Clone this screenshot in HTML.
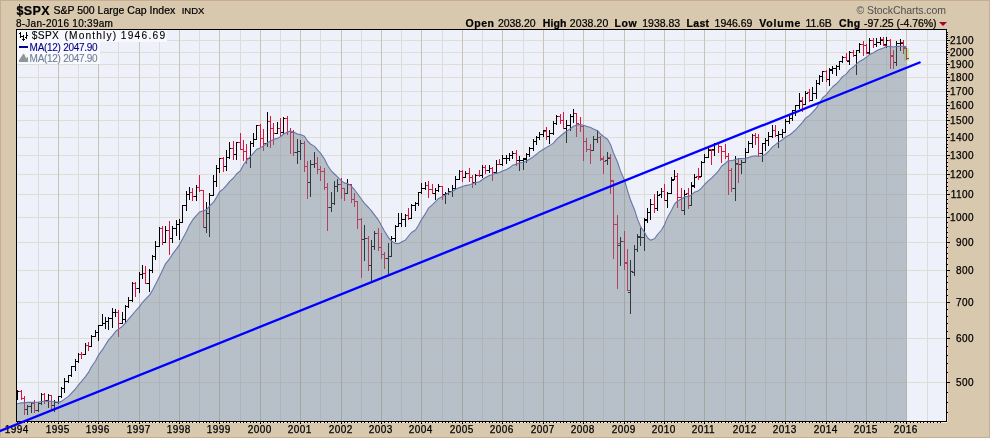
<!DOCTYPE html>
<html><head><meta charset="utf-8"><title>$SPX</title>
<style>
html,body{margin:0;padding:0;}
body{width:990px;height:438px;overflow:hidden;background:#d8c8ae;font-family:"Liberation Sans",sans-serif;color:#000;}
#c{position:relative;width:990px;height:438px;background:#d8c8ae;box-sizing:border-box;overflow:hidden;}
#bd{position:absolute;left:0;top:0;width:988px;height:436px;border:1px solid #c8ad92;pointer-events:none;}
.t{position:absolute;white-space:nowrap;line-height:1;-webkit-text-stroke:0.22px currentColor;}
#c{will-change:transform;}
.yl{position:absolute;left:940px;width:33.94px;text-align:right;font-size:10px;line-height:1;letter-spacing:0.44px;white-space:nowrap;-webkit-text-stroke:0.25px #000;}
.xl{position:absolute;top:424.70px;font-size:10px;line-height:1;letter-spacing:0.44px;white-space:nowrap;-webkit-text-stroke:0.25px #000;}
</style></head><body><div id="c">
<svg width="990" height="438" viewBox="0 0 990 438" style="position:absolute;left:0;top:0">
<rect x="16" y="29" width="930" height="392" fill="#eef0fa"/>
<g shape-rendering="crispEdges">
<rect x="17" y="382" width="929" height="1" fill="#e0ddd7"/>
<rect x="17" y="338" width="929" height="1" fill="#e0ddd7"/>
<rect x="17" y="302" width="929" height="1" fill="#e0ddd7"/>
<rect x="17" y="270" width="929" height="1" fill="#e0ddd7"/>
<rect x="17" y="242" width="929" height="1" fill="#e0ddd7"/>
<rect x="17" y="217" width="929" height="1" fill="#e0ddd7"/>
<rect x="17" y="194" width="929" height="1" fill="#e0ddd7"/>
<rect x="17" y="174" width="929" height="1" fill="#e0ddd7"/>
<rect x="17" y="155" width="929" height="1" fill="#e0ddd7"/>
<rect x="17" y="137" width="929" height="1" fill="#e0ddd7"/>
<rect x="17" y="120" width="929" height="1" fill="#e0ddd7"/>
<rect x="17" y="105" width="929" height="1" fill="#e0ddd7"/>
<rect x="17" y="91" width="929" height="1" fill="#e0ddd7"/>
<rect x="17" y="77" width="929" height="1" fill="#e0ddd7"/>
<rect x="17" y="64" width="929" height="1" fill="#e0ddd7"/>
<rect x="17" y="52" width="929" height="1" fill="#e0ddd7"/>
<rect x="17" y="40" width="929" height="1" fill="#e0ddd7"/>
<rect x="38" y="30" width="1" height="391" fill="#dedcd8"/>
<rect x="58" y="30" width="1" height="391" fill="#c7c4b6"/>
<rect x="78" y="30" width="1" height="391" fill="#dedcd8"/>
<rect x="98" y="30" width="1" height="391" fill="#c7c4b6"/>
<rect x="118" y="30" width="1" height="391" fill="#dedcd8"/>
<rect x="139" y="30" width="1" height="391" fill="#c7c4b6"/>
<rect x="159" y="30" width="1" height="391" fill="#dedcd8"/>
<rect x="179" y="30" width="1" height="391" fill="#c7c4b6"/>
<rect x="199" y="30" width="1" height="391" fill="#dedcd8"/>
<rect x="219" y="30" width="1" height="391" fill="#c7c4b6"/>
<rect x="240" y="30" width="1" height="391" fill="#dedcd8"/>
<rect x="260" y="30" width="1" height="391" fill="#c7c4b6"/>
<rect x="280" y="30" width="1" height="391" fill="#dedcd8"/>
<rect x="300" y="30" width="1" height="391" fill="#c7c4b6"/>
<rect x="320" y="30" width="1" height="391" fill="#dedcd8"/>
<rect x="341" y="30" width="1" height="391" fill="#c7c4b6"/>
<rect x="361" y="30" width="1" height="391" fill="#dedcd8"/>
<rect x="381" y="30" width="1" height="391" fill="#c7c4b6"/>
<rect x="401" y="30" width="1" height="391" fill="#dedcd8"/>
<rect x="421" y="30" width="1" height="391" fill="#c7c4b6"/>
<rect x="442" y="30" width="1" height="391" fill="#dedcd8"/>
<rect x="462" y="30" width="1" height="391" fill="#c7c4b6"/>
<rect x="482" y="30" width="1" height="391" fill="#dedcd8"/>
<rect x="502" y="30" width="1" height="391" fill="#c7c4b6"/>
<rect x="523" y="30" width="1" height="391" fill="#dedcd8"/>
<rect x="543" y="30" width="1" height="391" fill="#c7c4b6"/>
<rect x="563" y="30" width="1" height="391" fill="#dedcd8"/>
<rect x="583" y="30" width="1" height="391" fill="#c7c4b6"/>
<rect x="603" y="30" width="1" height="391" fill="#dedcd8"/>
<rect x="624" y="30" width="1" height="391" fill="#c7c4b6"/>
<rect x="644" y="30" width="1" height="391" fill="#dedcd8"/>
<rect x="664" y="30" width="1" height="391" fill="#c7c4b6"/>
<rect x="684" y="30" width="1" height="391" fill="#dedcd8"/>
<rect x="704" y="30" width="1" height="391" fill="#c7c4b6"/>
<rect x="725" y="30" width="1" height="391" fill="#dedcd8"/>
<rect x="745" y="30" width="1" height="391" fill="#c7c4b6"/>
<rect x="765" y="30" width="1" height="391" fill="#dedcd8"/>
<rect x="785" y="30" width="1" height="391" fill="#c7c4b6"/>
<rect x="805" y="30" width="1" height="391" fill="#dedcd8"/>
<rect x="826" y="30" width="1" height="391" fill="#c7c4b6"/>
<rect x="846" y="30" width="1" height="391" fill="#dedcd8"/>
<rect x="866" y="30" width="1" height="391" fill="#c7c4b6"/>
<rect x="886" y="30" width="1" height="391" fill="#dedcd8"/>
<rect x="906" y="30" width="1" height="391" fill="#c7c4b6"/>
<rect x="927" y="30" width="1" height="391" fill="#dedcd8"/>
</g>
<rect x="904" y="48" width="5" height="13" fill="#b9f2a4" shape-rendering="crispEdges"/>
<g shape-rendering="crispEdges">
<rect x="17" y="390" width="1" height="10" fill="#000"/>
<rect x="16" y="398" width="1" height="1" fill="#000"/>
<rect x="18" y="391" width="2" height="1" fill="#000"/>
<rect x="21" y="390" width="1" height="10" fill="#dc143c"/>
<rect x="19" y="391" width="2" height="1" fill="#dc143c"/>
<rect x="22" y="398" width="2" height="1" fill="#dc143c"/>
<rect x="24" y="396" width="1" height="19" fill="#dc143c"/>
<rect x="22" y="398" width="2" height="1" fill="#dc143c"/>
<rect x="25" y="409" width="2" height="1" fill="#dc143c"/>
<rect x="27" y="405" width="1" height="10" fill="#000"/>
<rect x="25" y="409" width="2" height="1" fill="#000"/>
<rect x="28" y="406" width="2" height="1" fill="#000"/>
<rect x="31" y="403" width="1" height="10" fill="#000"/>
<rect x="29" y="406" width="2" height="1" fill="#000"/>
<rect x="32" y="403" width="2" height="1" fill="#000"/>
<rect x="34" y="400" width="1" height="13" fill="#dc143c"/>
<rect x="32" y="403" width="2" height="1" fill="#dc143c"/>
<rect x="35" y="410" width="2" height="1" fill="#dc143c"/>
<rect x="38" y="402" width="1" height="10" fill="#000"/>
<rect x="36" y="410" width="2" height="1" fill="#000"/>
<rect x="39" y="403" width="2" height="1" fill="#000"/>
<rect x="41" y="393" width="1" height="12" fill="#000"/>
<rect x="39" y="403" width="2" height="1" fill="#000"/>
<rect x="42" y="394" width="2" height="1" fill="#000"/>
<rect x="44" y="393" width="1" height="11" fill="#dc143c"/>
<rect x="42" y="394" width="2" height="1" fill="#dc143c"/>
<rect x="45" y="400" width="2" height="1" fill="#dc143c"/>
<rect x="48" y="394" width="1" height="14" fill="#000"/>
<rect x="46" y="400" width="2" height="1" fill="#000"/>
<rect x="49" y="395" width="2" height="1" fill="#000"/>
<rect x="51" y="395" width="1" height="16" fill="#dc143c"/>
<rect x="49" y="395" width="2" height="1" fill="#dc143c"/>
<rect x="52" y="405" width="2" height="1" fill="#dc143c"/>
<rect x="54" y="400" width="1" height="12" fill="#000"/>
<rect x="52" y="405" width="2" height="1" fill="#000"/>
<rect x="55" y="402" width="2" height="1" fill="#000"/>
<rect x="58" y="396" width="1" height="8" fill="#000"/>
<rect x="56" y="402" width="2" height="1" fill="#000"/>
<rect x="59" y="396" width="2" height="1" fill="#000"/>
<rect x="61" y="387" width="1" height="11" fill="#000"/>
<rect x="59" y="396" width="2" height="1" fill="#000"/>
<rect x="62" y="388" width="2" height="1" fill="#000"/>
<rect x="64" y="378" width="1" height="15" fill="#000"/>
<rect x="62" y="388" width="2" height="1" fill="#000"/>
<rect x="65" y="381" width="2" height="1" fill="#000"/>
<rect x="68" y="375" width="1" height="8" fill="#000"/>
<rect x="66" y="381" width="2" height="1" fill="#000"/>
<rect x="69" y="375" width="2" height="1" fill="#000"/>
<rect x="71" y="366" width="1" height="11" fill="#000"/>
<rect x="69" y="375" width="2" height="1" fill="#000"/>
<rect x="72" y="366" width="2" height="1" fill="#000"/>
<rect x="75" y="359" width="1" height="12" fill="#000"/>
<rect x="73" y="366" width="2" height="1" fill="#000"/>
<rect x="76" y="361" width="2" height="1" fill="#000"/>
<rect x="78" y="353" width="1" height="10" fill="#000"/>
<rect x="76" y="361" width="2" height="1" fill="#000"/>
<rect x="79" y="354" width="2" height="1" fill="#000"/>
<rect x="81" y="352" width="1" height="7" fill="#dc143c"/>
<rect x="79" y="354" width="2" height="1" fill="#dc143c"/>
<rect x="82" y="354" width="2" height="1" fill="#dc143c"/>
<rect x="85" y="343" width="1" height="12" fill="#000"/>
<rect x="83" y="354" width="2" height="1" fill="#000"/>
<rect x="86" y="345" width="2" height="1" fill="#000"/>
<rect x="88" y="342" width="1" height="9" fill="#dc143c"/>
<rect x="86" y="345" width="2" height="1" fill="#dc143c"/>
<rect x="89" y="346" width="2" height="1" fill="#dc143c"/>
<rect x="91" y="335" width="1" height="12" fill="#000"/>
<rect x="89" y="346" width="2" height="1" fill="#000"/>
<rect x="92" y="336" width="2" height="1" fill="#000"/>
<rect x="95" y="330" width="1" height="7" fill="#000"/>
<rect x="93" y="336" width="2" height="1" fill="#000"/>
<rect x="96" y="332" width="2" height="1" fill="#000"/>
<rect x="98" y="325" width="1" height="16" fill="#000"/>
<rect x="96" y="332" width="2" height="1" fill="#000"/>
<rect x="99" y="325" width="2" height="1" fill="#000"/>
<rect x="102" y="314" width="1" height="12" fill="#000"/>
<rect x="100" y="325" width="2" height="1" fill="#000"/>
<rect x="103" y="323" width="2" height="1" fill="#000"/>
<rect x="105" y="317" width="1" height="12" fill="#000"/>
<rect x="103" y="323" width="2" height="1" fill="#000"/>
<rect x="106" y="321" width="2" height="1" fill="#000"/>
<rect x="108" y="317" width="1" height="13" fill="#000"/>
<rect x="106" y="321" width="2" height="1" fill="#000"/>
<rect x="109" y="318" width="2" height="1" fill="#000"/>
<rect x="112" y="308" width="1" height="20" fill="#000"/>
<rect x="110" y="318" width="2" height="1" fill="#000"/>
<rect x="113" y="312" width="2" height="1" fill="#000"/>
<rect x="115" y="309" width="1" height="8" fill="#000"/>
<rect x="113" y="312" width="2" height="1" fill="#000"/>
<rect x="116" y="312" width="2" height="1" fill="#000"/>
<rect x="118" y="310" width="1" height="27" fill="#dc143c"/>
<rect x="116" y="312" width="2" height="1" fill="#dc143c"/>
<rect x="119" y="323" width="2" height="1" fill="#dc143c"/>
<rect x="122" y="312" width="1" height="12" fill="#000"/>
<rect x="120" y="323" width="2" height="1" fill="#000"/>
<rect x="123" y="319" width="2" height="1" fill="#000"/>
<rect x="125" y="305" width="1" height="18" fill="#000"/>
<rect x="123" y="319" width="2" height="1" fill="#000"/>
<rect x="126" y="306" width="2" height="1" fill="#000"/>
<rect x="128" y="297" width="1" height="11" fill="#000"/>
<rect x="126" y="306" width="2" height="1" fill="#000"/>
<rect x="129" y="300" width="2" height="1" fill="#000"/>
<rect x="132" y="282" width="1" height="20" fill="#000"/>
<rect x="130" y="300" width="2" height="1" fill="#000"/>
<rect x="133" y="283" width="2" height="1" fill="#000"/>
<rect x="135" y="282" width="1" height="15" fill="#dc143c"/>
<rect x="133" y="283" width="2" height="1" fill="#dc143c"/>
<rect x="136" y="288" width="2" height="1" fill="#dc143c"/>
<rect x="139" y="272" width="1" height="21" fill="#000"/>
<rect x="137" y="288" width="2" height="1" fill="#000"/>
<rect x="140" y="274" width="2" height="1" fill="#000"/>
<rect x="142" y="265" width="1" height="14" fill="#000"/>
<rect x="140" y="274" width="2" height="1" fill="#000"/>
<rect x="143" y="273" width="2" height="1" fill="#000"/>
<rect x="145" y="266" width="1" height="18" fill="#dc143c"/>
<rect x="143" y="273" width="2" height="1" fill="#dc143c"/>
<rect x="146" y="283" width="2" height="1" fill="#dc143c"/>
<rect x="149" y="269" width="1" height="23" fill="#000"/>
<rect x="147" y="283" width="2" height="1" fill="#000"/>
<rect x="150" y="270" width="2" height="1" fill="#000"/>
<rect x="152" y="255" width="1" height="18" fill="#000"/>
<rect x="150" y="270" width="2" height="1" fill="#000"/>
<rect x="153" y="256" width="2" height="1" fill="#000"/>
<rect x="155" y="241" width="1" height="19" fill="#000"/>
<rect x="153" y="256" width="2" height="1" fill="#000"/>
<rect x="156" y="246" width="2" height="1" fill="#000"/>
<rect x="159" y="227" width="1" height="20" fill="#000"/>
<rect x="157" y="246" width="2" height="1" fill="#000"/>
<rect x="160" y="228" width="2" height="1" fill="#000"/>
<rect x="162" y="226" width="1" height="19" fill="#dc143c"/>
<rect x="160" y="228" width="2" height="1" fill="#dc143c"/>
<rect x="163" y="242" width="2" height="1" fill="#dc143c"/>
<rect x="165" y="226" width="1" height="17" fill="#000"/>
<rect x="163" y="242" width="2" height="1" fill="#000"/>
<rect x="166" y="230" width="2" height="1" fill="#000"/>
<rect x="169" y="221" width="1" height="34" fill="#dc143c"/>
<rect x="167" y="230" width="2" height="1" fill="#dc143c"/>
<rect x="170" y="238" width="2" height="1" fill="#dc143c"/>
<rect x="172" y="226" width="1" height="17" fill="#000"/>
<rect x="170" y="238" width="2" height="1" fill="#000"/>
<rect x="173" y="228" width="2" height="1" fill="#000"/>
<rect x="176" y="220" width="1" height="16" fill="#000"/>
<rect x="174" y="228" width="2" height="1" fill="#000"/>
<rect x="177" y="224" width="2" height="1" fill="#000"/>
<rect x="179" y="219" width="1" height="21" fill="#000"/>
<rect x="177" y="224" width="2" height="1" fill="#000"/>
<rect x="180" y="222" width="2" height="1" fill="#000"/>
<rect x="182" y="205" width="1" height="18" fill="#000"/>
<rect x="180" y="222" width="2" height="1" fill="#000"/>
<rect x="183" y="205" width="2" height="1" fill="#000"/>
<rect x="186" y="191" width="1" height="20" fill="#000"/>
<rect x="184" y="205" width="2" height="1" fill="#000"/>
<rect x="187" y="194" width="2" height="1" fill="#000"/>
<rect x="189" y="187" width="1" height="13" fill="#000"/>
<rect x="187" y="194" width="2" height="1" fill="#000"/>
<rect x="190" y="192" width="2" height="1" fill="#000"/>
<rect x="192" y="188" width="1" height="13" fill="#dc143c"/>
<rect x="190" y="192" width="2" height="1" fill="#dc143c"/>
<rect x="193" y="196" width="2" height="1" fill="#dc143c"/>
<rect x="196" y="185" width="1" height="16" fill="#000"/>
<rect x="194" y="196" width="2" height="1" fill="#000"/>
<rect x="197" y="187" width="2" height="1" fill="#000"/>
<rect x="199" y="175" width="1" height="17" fill="#dc143c"/>
<rect x="197" y="187" width="2" height="1" fill="#dc143c"/>
<rect x="200" y="190" width="2" height="1" fill="#dc143c"/>
<rect x="203" y="190" width="1" height="38" fill="#dc143c"/>
<rect x="201" y="190" width="2" height="1" fill="#dc143c"/>
<rect x="204" y="227" width="2" height="1" fill="#dc143c"/>
<rect x="206" y="202" width="1" height="31" fill="#000"/>
<rect x="204" y="227" width="2" height="1" fill="#000"/>
<rect x="207" y="213" width="2" height="1" fill="#000"/>
<rect x="209" y="193" width="1" height="44" fill="#000"/>
<rect x="207" y="213" width="2" height="1" fill="#000"/>
<rect x="210" y="195" width="2" height="1" fill="#000"/>
<rect x="213" y="175" width="1" height="21" fill="#000"/>
<rect x="211" y="195" width="2" height="1" fill="#000"/>
<rect x="214" y="181" width="2" height="1" fill="#000"/>
<rect x="216" y="165" width="1" height="22" fill="#000"/>
<rect x="214" y="181" width="2" height="1" fill="#000"/>
<rect x="217" y="168" width="2" height="1" fill="#000"/>
<rect x="219" y="158" width="1" height="15" fill="#000"/>
<rect x="217" y="168" width="2" height="1" fill="#000"/>
<rect x="220" y="158" width="2" height="1" fill="#000"/>
<rect x="223" y="157" width="1" height="15" fill="#dc143c"/>
<rect x="221" y="158" width="2" height="1" fill="#dc143c"/>
<rect x="224" y="166" width="2" height="1" fill="#dc143c"/>
<rect x="226" y="150" width="1" height="21" fill="#000"/>
<rect x="224" y="166" width="2" height="1" fill="#000"/>
<rect x="227" y="157" width="2" height="1" fill="#000"/>
<rect x="229" y="142" width="1" height="17" fill="#000"/>
<rect x="227" y="157" width="2" height="1" fill="#000"/>
<rect x="230" y="148" width="2" height="1" fill="#000"/>
<rect x="233" y="141" width="1" height="19" fill="#dc143c"/>
<rect x="231" y="148" width="2" height="1" fill="#dc143c"/>
<rect x="234" y="154" width="2" height="1" fill="#dc143c"/>
<rect x="236" y="142" width="1" height="18" fill="#000"/>
<rect x="234" y="154" width="2" height="1" fill="#000"/>
<rect x="237" y="142" width="2" height="1" fill="#000"/>
<rect x="240" y="133" width="1" height="17" fill="#dc143c"/>
<rect x="238" y="142" width="2" height="1" fill="#dc143c"/>
<rect x="241" y="149" width="2" height="1" fill="#dc143c"/>
<rect x="243" y="140" width="1" height="21" fill="#dc143c"/>
<rect x="241" y="149" width="2" height="1" fill="#dc143c"/>
<rect x="244" y="151" width="2" height="1" fill="#dc143c"/>
<rect x="246" y="144" width="1" height="20" fill="#dc143c"/>
<rect x="244" y="151" width="2" height="1" fill="#dc143c"/>
<rect x="247" y="158" width="2" height="1" fill="#dc143c"/>
<rect x="250" y="141" width="1" height="27" fill="#000"/>
<rect x="248" y="158" width="2" height="1" fill="#000"/>
<rect x="251" y="143" width="2" height="1" fill="#000"/>
<rect x="253" y="133" width="1" height="14" fill="#000"/>
<rect x="251" y="143" width="2" height="1" fill="#000"/>
<rect x="254" y="139" width="2" height="1" fill="#000"/>
<rect x="256" y="125" width="1" height="15" fill="#000"/>
<rect x="254" y="139" width="2" height="1" fill="#000"/>
<rect x="257" y="125" width="2" height="1" fill="#000"/>
<rect x="260" y="124" width="1" height="23" fill="#dc143c"/>
<rect x="258" y="125" width="2" height="1" fill="#dc143c"/>
<rect x="261" y="138" width="2" height="1" fill="#dc143c"/>
<rect x="263" y="129" width="1" height="22" fill="#dc143c"/>
<rect x="261" y="138" width="2" height="1" fill="#dc143c"/>
<rect x="264" y="143" width="2" height="1" fill="#dc143c"/>
<rect x="267" y="112" width="1" height="35" fill="#000"/>
<rect x="265" y="143" width="2" height="1" fill="#000"/>
<rect x="268" y="121" width="2" height="1" fill="#000"/>
<rect x="270" y="116" width="1" height="32" fill="#dc143c"/>
<rect x="268" y="121" width="2" height="1" fill="#dc143c"/>
<rect x="271" y="128" width="2" height="1" fill="#dc143c"/>
<rect x="273" y="123" width="1" height="22" fill="#dc143c"/>
<rect x="271" y="128" width="2" height="1" fill="#dc143c"/>
<rect x="274" y="133" width="2" height="1" fill="#dc143c"/>
<rect x="277" y="122" width="1" height="12" fill="#000"/>
<rect x="275" y="133" width="2" height="1" fill="#000"/>
<rect x="278" y="128" width="2" height="1" fill="#000"/>
<rect x="280" y="118" width="1" height="18" fill="#dc143c"/>
<rect x="278" y="128" width="2" height="1" fill="#dc143c"/>
<rect x="281" y="132" width="2" height="1" fill="#dc143c"/>
<rect x="283" y="117" width="1" height="17" fill="#000"/>
<rect x="281" y="132" width="2" height="1" fill="#000"/>
<rect x="284" y="118" width="2" height="1" fill="#000"/>
<rect x="287" y="116" width="1" height="19" fill="#dc143c"/>
<rect x="285" y="118" width="2" height="1" fill="#dc143c"/>
<rect x="288" y="131" width="2" height="1" fill="#dc143c"/>
<rect x="290" y="128" width="1" height="26" fill="#dc143c"/>
<rect x="288" y="131" width="2" height="1" fill="#dc143c"/>
<rect x="291" y="132" width="2" height="1" fill="#dc143c"/>
<rect x="293" y="130" width="1" height="26" fill="#dc143c"/>
<rect x="291" y="132" width="2" height="1" fill="#dc143c"/>
<rect x="294" y="152" width="2" height="1" fill="#dc143c"/>
<rect x="297" y="139" width="1" height="25" fill="#000"/>
<rect x="295" y="152" width="2" height="1" fill="#000"/>
<rect x="298" y="151" width="2" height="1" fill="#000"/>
<rect x="300" y="140" width="1" height="20" fill="#000"/>
<rect x="298" y="151" width="2" height="1" fill="#000"/>
<rect x="301" y="143" width="2" height="1" fill="#000"/>
<rect x="304" y="141" width="1" height="31" fill="#dc143c"/>
<rect x="302" y="143" width="2" height="1" fill="#dc143c"/>
<rect x="305" y="166" width="2" height="1" fill="#dc143c"/>
<rect x="307" y="161" width="1" height="38" fill="#dc143c"/>
<rect x="305" y="166" width="2" height="1" fill="#dc143c"/>
<rect x="308" y="182" width="2" height="1" fill="#dc143c"/>
<rect x="310" y="160" width="1" height="37" fill="#000"/>
<rect x="308" y="182" width="2" height="1" fill="#000"/>
<rect x="311" y="164" width="2" height="1" fill="#000"/>
<rect x="314" y="152" width="1" height="16" fill="#000"/>
<rect x="312" y="164" width="2" height="1" fill="#000"/>
<rect x="315" y="163" width="2" height="1" fill="#000"/>
<rect x="317" y="157" width="1" height="17" fill="#dc143c"/>
<rect x="315" y="163" width="2" height="1" fill="#dc143c"/>
<rect x="318" y="169" width="2" height="1" fill="#dc143c"/>
<rect x="320" y="166" width="1" height="15" fill="#dc143c"/>
<rect x="318" y="169" width="2" height="1" fill="#dc143c"/>
<rect x="321" y="171" width="2" height="1" fill="#dc143c"/>
<rect x="324" y="168" width="1" height="22" fill="#dc143c"/>
<rect x="322" y="171" width="2" height="1" fill="#dc143c"/>
<rect x="325" y="187" width="2" height="1" fill="#dc143c"/>
<rect x="327" y="183" width="1" height="48" fill="#dc143c"/>
<rect x="325" y="187" width="2" height="1" fill="#dc143c"/>
<rect x="328" y="207" width="2" height="1" fill="#dc143c"/>
<rect x="331" y="192" width="1" height="20" fill="#000"/>
<rect x="329" y="207" width="2" height="1" fill="#000"/>
<rect x="332" y="203" width="2" height="1" fill="#000"/>
<rect x="334" y="181" width="1" height="24" fill="#000"/>
<rect x="332" y="203" width="2" height="1" fill="#000"/>
<rect x="335" y="186" width="2" height="1" fill="#000"/>
<rect x="337" y="179" width="1" height="13" fill="#000"/>
<rect x="335" y="186" width="2" height="1" fill="#000"/>
<rect x="338" y="184" width="2" height="1" fill="#000"/>
<rect x="341" y="178" width="1" height="21" fill="#dc143c"/>
<rect x="339" y="184" width="2" height="1" fill="#dc143c"/>
<rect x="342" y="188" width="2" height="1" fill="#dc143c"/>
<rect x="344" y="188" width="1" height="13" fill="#dc143c"/>
<rect x="342" y="188" width="2" height="1" fill="#dc143c"/>
<rect x="345" y="193" width="2" height="1" fill="#dc143c"/>
<rect x="347" y="179" width="1" height="15" fill="#000"/>
<rect x="345" y="193" width="2" height="1" fill="#000"/>
<rect x="348" y="184" width="2" height="1" fill="#000"/>
<rect x="351" y="184" width="1" height="19" fill="#dc143c"/>
<rect x="349" y="184" width="2" height="1" fill="#dc143c"/>
<rect x="352" y="199" width="2" height="1" fill="#dc143c"/>
<rect x="354" y="193" width="1" height="14" fill="#dc143c"/>
<rect x="352" y="199" width="2" height="1" fill="#dc143c"/>
<rect x="355" y="201" width="2" height="1" fill="#dc143c"/>
<rect x="357" y="201" width="1" height="28" fill="#dc143c"/>
<rect x="355" y="201" width="2" height="1" fill="#dc143c"/>
<rect x="358" y="219" width="2" height="1" fill="#dc143c"/>
<rect x="361" y="218" width="1" height="60" fill="#dc143c"/>
<rect x="359" y="219" width="2" height="1" fill="#dc143c"/>
<rect x="362" y="239" width="2" height="1" fill="#dc143c"/>
<rect x="364" y="225" width="1" height="36" fill="#000"/>
<rect x="362" y="239" width="2" height="1" fill="#000"/>
<rect x="365" y="238" width="2" height="1" fill="#000"/>
<rect x="368" y="236" width="1" height="35" fill="#dc143c"/>
<rect x="366" y="238" width="2" height="1" fill="#dc143c"/>
<rect x="369" y="265" width="2" height="1" fill="#dc143c"/>
<rect x="371" y="240" width="1" height="41" fill="#000"/>
<rect x="369" y="265" width="2" height="1" fill="#000"/>
<rect x="372" y="246" width="2" height="1" fill="#000"/>
<rect x="374" y="231" width="1" height="19" fill="#000"/>
<rect x="372" y="246" width="2" height="1" fill="#000"/>
<rect x="375" y="233" width="2" height="1" fill="#000"/>
<rect x="378" y="228" width="1" height="23" fill="#dc143c"/>
<rect x="376" y="233" width="2" height="1" fill="#dc143c"/>
<rect x="379" y="247" width="2" height="1" fill="#dc143c"/>
<rect x="381" y="233" width="1" height="26" fill="#dc143c"/>
<rect x="379" y="247" width="2" height="1" fill="#dc143c"/>
<rect x="382" y="254" width="2" height="1" fill="#dc143c"/>
<rect x="384" y="252" width="1" height="17" fill="#dc143c"/>
<rect x="382" y="254" width="2" height="1" fill="#dc143c"/>
<rect x="385" y="258" width="2" height="1" fill="#dc143c"/>
<rect x="388" y="243" width="1" height="31" fill="#000"/>
<rect x="386" y="258" width="2" height="1" fill="#000"/>
<rect x="389" y="256" width="2" height="1" fill="#000"/>
<rect x="391" y="236" width="1" height="21" fill="#000"/>
<rect x="389" y="256" width="2" height="1" fill="#000"/>
<rect x="392" y="238" width="2" height="1" fill="#000"/>
<rect x="395" y="225" width="1" height="17" fill="#000"/>
<rect x="393" y="238" width="2" height="1" fill="#000"/>
<rect x="396" y="226" width="2" height="1" fill="#000"/>
<rect x="398" y="213" width="1" height="14" fill="#000"/>
<rect x="396" y="226" width="2" height="1" fill="#000"/>
<rect x="399" y="223" width="2" height="1" fill="#000"/>
<rect x="401" y="213" width="1" height="14" fill="#000"/>
<rect x="399" y="223" width="2" height="1" fill="#000"/>
<rect x="402" y="219" width="2" height="1" fill="#000"/>
<rect x="405" y="214" width="1" height="13" fill="#000"/>
<rect x="403" y="219" width="2" height="1" fill="#000"/>
<rect x="406" y="215" width="2" height="1" fill="#000"/>
<rect x="408" y="208" width="1" height="12" fill="#dc143c"/>
<rect x="406" y="215" width="2" height="1" fill="#dc143c"/>
<rect x="409" y="218" width="2" height="1" fill="#dc143c"/>
<rect x="411" y="204" width="1" height="15" fill="#000"/>
<rect x="409" y="218" width="2" height="1" fill="#000"/>
<rect x="412" y="205" width="2" height="1" fill="#000"/>
<rect x="415" y="202" width="1" height="9" fill="#000"/>
<rect x="413" y="205" width="2" height="1" fill="#000"/>
<rect x="416" y="203" width="2" height="1" fill="#000"/>
<rect x="418" y="192" width="1" height="14" fill="#000"/>
<rect x="416" y="203" width="2" height="1" fill="#000"/>
<rect x="419" y="192" width="2" height="1" fill="#000"/>
<rect x="421" y="183" width="1" height="11" fill="#000"/>
<rect x="419" y="192" width="2" height="1" fill="#000"/>
<rect x="422" y="188" width="2" height="1" fill="#000"/>
<rect x="425" y="182" width="1" height="8" fill="#000"/>
<rect x="423" y="188" width="2" height="1" fill="#000"/>
<rect x="426" y="185" width="2" height="1" fill="#000"/>
<rect x="428" y="181" width="1" height="17" fill="#dc143c"/>
<rect x="426" y="185" width="2" height="1" fill="#dc143c"/>
<rect x="429" y="189" width="2" height="1" fill="#dc143c"/>
<rect x="432" y="184" width="1" height="10" fill="#dc143c"/>
<rect x="430" y="189" width="2" height="1" fill="#dc143c"/>
<rect x="433" y="193" width="2" height="1" fill="#dc143c"/>
<rect x="435" y="188" width="1" height="12" fill="#000"/>
<rect x="433" y="193" width="2" height="1" fill="#000"/>
<rect x="436" y="190" width="2" height="1" fill="#000"/>
<rect x="438" y="184" width="1" height="8" fill="#000"/>
<rect x="436" y="190" width="2" height="1" fill="#000"/>
<rect x="439" y="186" width="2" height="1" fill="#000"/>
<rect x="442" y="186" width="1" height="14" fill="#dc143c"/>
<rect x="440" y="186" width="2" height="1" fill="#dc143c"/>
<rect x="443" y="194" width="2" height="1" fill="#dc143c"/>
<rect x="445" y="192" width="1" height="12" fill="#000"/>
<rect x="443" y="194" width="2" height="1" fill="#000"/>
<rect x="446" y="193" width="2" height="1" fill="#000"/>
<rect x="448" y="188" width="1" height="7" fill="#000"/>
<rect x="446" y="193" width="2" height="1" fill="#000"/>
<rect x="449" y="191" width="2" height="1" fill="#000"/>
<rect x="452" y="185" width="1" height="12" fill="#000"/>
<rect x="450" y="191" width="2" height="1" fill="#000"/>
<rect x="453" y="188" width="2" height="1" fill="#000"/>
<rect x="455" y="176" width="1" height="13" fill="#000"/>
<rect x="453" y="188" width="2" height="1" fill="#000"/>
<rect x="456" y="179" width="2" height="1" fill="#000"/>
<rect x="459" y="170" width="1" height="10" fill="#000"/>
<rect x="457" y="179" width="2" height="1" fill="#000"/>
<rect x="460" y="171" width="2" height="1" fill="#000"/>
<rect x="462" y="170" width="1" height="12" fill="#dc143c"/>
<rect x="460" y="171" width="2" height="1" fill="#dc143c"/>
<rect x="463" y="177" width="2" height="1" fill="#dc143c"/>
<rect x="465" y="171" width="1" height="7" fill="#000"/>
<rect x="463" y="177" width="2" height="1" fill="#000"/>
<rect x="466" y="173" width="2" height="1" fill="#000"/>
<rect x="469" y="168" width="1" height="14" fill="#dc143c"/>
<rect x="467" y="173" width="2" height="1" fill="#dc143c"/>
<rect x="470" y="177" width="2" height="1" fill="#dc143c"/>
<rect x="472" y="175" width="1" height="13" fill="#dc143c"/>
<rect x="470" y="177" width="2" height="1" fill="#dc143c"/>
<rect x="473" y="182" width="2" height="1" fill="#dc143c"/>
<rect x="475" y="174" width="1" height="11" fill="#000"/>
<rect x="473" y="182" width="2" height="1" fill="#000"/>
<rect x="476" y="175" width="2" height="1" fill="#000"/>
<rect x="479" y="170" width="1" height="7" fill="#dc143c"/>
<rect x="477" y="175" width="2" height="1" fill="#dc143c"/>
<rect x="480" y="175" width="2" height="1" fill="#dc143c"/>
<rect x="482" y="165" width="1" height="13" fill="#000"/>
<rect x="480" y="175" width="2" height="1" fill="#000"/>
<rect x="483" y="167" width="2" height="1" fill="#000"/>
<rect x="485" y="165" width="1" height="9" fill="#dc143c"/>
<rect x="483" y="167" width="2" height="1" fill="#dc143c"/>
<rect x="486" y="170" width="2" height="1" fill="#dc143c"/>
<rect x="489" y="165" width="1" height="8" fill="#000"/>
<rect x="487" y="170" width="2" height="1" fill="#000"/>
<rect x="490" y="168" width="2" height="1" fill="#000"/>
<rect x="492" y="167" width="1" height="14" fill="#dc143c"/>
<rect x="490" y="168" width="2" height="1" fill="#dc143c"/>
<rect x="493" y="172" width="2" height="1" fill="#dc143c"/>
<rect x="496" y="160" width="1" height="14" fill="#000"/>
<rect x="494" y="172" width="2" height="1" fill="#000"/>
<rect x="497" y="164" width="2" height="1" fill="#000"/>
<rect x="499" y="159" width="1" height="6" fill="#dc143c"/>
<rect x="497" y="164" width="2" height="1" fill="#dc143c"/>
<rect x="500" y="164" width="2" height="1" fill="#dc143c"/>
<rect x="502" y="155" width="1" height="11" fill="#000"/>
<rect x="500" y="164" width="2" height="1" fill="#000"/>
<rect x="503" y="158" width="2" height="1" fill="#000"/>
<rect x="506" y="155" width="1" height="9" fill="#000"/>
<rect x="504" y="158" width="2" height="1" fill="#000"/>
<rect x="507" y="158" width="2" height="1" fill="#000"/>
<rect x="509" y="153" width="1" height="8" fill="#000"/>
<rect x="507" y="158" width="2" height="1" fill="#000"/>
<rect x="510" y="155" width="2" height="1" fill="#000"/>
<rect x="512" y="151" width="1" height="8" fill="#000"/>
<rect x="510" y="155" width="2" height="1" fill="#000"/>
<rect x="513" y="153" width="2" height="1" fill="#000"/>
<rect x="516" y="150" width="1" height="16" fill="#dc143c"/>
<rect x="514" y="153" width="2" height="1" fill="#dc143c"/>
<rect x="517" y="160" width="2" height="1" fill="#dc143c"/>
<rect x="519" y="156" width="1" height="15" fill="#000"/>
<rect x="517" y="160" width="2" height="1" fill="#000"/>
<rect x="520" y="160" width="2" height="1" fill="#000"/>
<rect x="523" y="158" width="1" height="12" fill="#000"/>
<rect x="521" y="160" width="2" height="1" fill="#000"/>
<rect x="524" y="159" width="2" height="1" fill="#000"/>
<rect x="526" y="153" width="1" height="10" fill="#000"/>
<rect x="524" y="158" width="2" height="1" fill="#000"/>
<rect x="527" y="154" width="2" height="1" fill="#000"/>
<rect x="529" y="147" width="1" height="10" fill="#000"/>
<rect x="527" y="154" width="2" height="1" fill="#000"/>
<rect x="530" y="148" width="2" height="1" fill="#000"/>
<rect x="533" y="139" width="1" height="12" fill="#000"/>
<rect x="531" y="148" width="2" height="1" fill="#000"/>
<rect x="534" y="141" width="2" height="1" fill="#000"/>
<rect x="536" y="136" width="1" height="9" fill="#000"/>
<rect x="534" y="141" width="2" height="1" fill="#000"/>
<rect x="537" y="137" width="2" height="1" fill="#000"/>
<rect x="539" y="132" width="1" height="8" fill="#000"/>
<rect x="537" y="137" width="2" height="1" fill="#000"/>
<rect x="540" y="134" width="2" height="1" fill="#000"/>
<rect x="543" y="130" width="1" height="7" fill="#000"/>
<rect x="541" y="134" width="2" height="1" fill="#000"/>
<rect x="544" y="130" width="2" height="1" fill="#000"/>
<rect x="546" y="127" width="1" height="13" fill="#dc143c"/>
<rect x="544" y="131" width="2" height="1" fill="#dc143c"/>
<rect x="547" y="136" width="2" height="1" fill="#dc143c"/>
<rect x="549" y="130" width="1" height="14" fill="#000"/>
<rect x="547" y="136" width="2" height="1" fill="#000"/>
<rect x="550" y="133" width="2" height="1" fill="#000"/>
<rect x="553" y="121" width="1" height="14" fill="#000"/>
<rect x="551" y="133" width="2" height="1" fill="#000"/>
<rect x="554" y="123" width="2" height="1" fill="#000"/>
<rect x="556" y="115" width="1" height="10" fill="#000"/>
<rect x="554" y="123" width="2" height="1" fill="#000"/>
<rect x="557" y="116" width="2" height="1" fill="#000"/>
<rect x="560" y="114" width="1" height="10" fill="#dc143c"/>
<rect x="558" y="116" width="2" height="1" fill="#dc143c"/>
<rect x="561" y="120" width="2" height="1" fill="#dc143c"/>
<rect x="563" y="112" width="1" height="17" fill="#dc143c"/>
<rect x="561" y="120" width="2" height="1" fill="#dc143c"/>
<rect x="564" y="128" width="2" height="1" fill="#dc143c"/>
<rect x="566" y="120" width="1" height="23" fill="#000"/>
<rect x="564" y="128" width="2" height="1" fill="#000"/>
<rect x="567" y="125" width="2" height="1" fill="#000"/>
<rect x="570" y="114" width="1" height="17" fill="#000"/>
<rect x="568" y="125" width="2" height="1" fill="#000"/>
<rect x="571" y="116" width="2" height="1" fill="#000"/>
<rect x="573" y="109" width="1" height="14" fill="#000"/>
<rect x="571" y="116" width="2" height="1" fill="#000"/>
<rect x="574" y="113" width="2" height="1" fill="#000"/>
<rect x="576" y="113" width="1" height="24" fill="#dc143c"/>
<rect x="574" y="113" width="2" height="1" fill="#dc143c"/>
<rect x="577" y="123" width="2" height="1" fill="#dc143c"/>
<rect x="580" y="117" width="1" height="15" fill="#dc143c"/>
<rect x="578" y="124" width="2" height="1" fill="#dc143c"/>
<rect x="581" y="126" width="2" height="1" fill="#dc143c"/>
<rect x="583" y="125" width="1" height="36" fill="#dc143c"/>
<rect x="581" y="126" width="2" height="1" fill="#dc143c"/>
<rect x="584" y="141" width="2" height="1" fill="#dc143c"/>
<rect x="586" y="138" width="1" height="14" fill="#dc143c"/>
<rect x="584" y="141" width="2" height="1" fill="#dc143c"/>
<rect x="587" y="149" width="2" height="1" fill="#dc143c"/>
<rect x="590" y="144" width="1" height="20" fill="#dc143c"/>
<rect x="588" y="149" width="2" height="1" fill="#dc143c"/>
<rect x="591" y="150" width="2" height="1" fill="#dc143c"/>
<rect x="593" y="136" width="1" height="15" fill="#000"/>
<rect x="591" y="150" width="2" height="1" fill="#000"/>
<rect x="594" y="139" width="2" height="1" fill="#000"/>
<rect x="597" y="130" width="1" height="13" fill="#000"/>
<rect x="595" y="139" width="2" height="1" fill="#000"/>
<rect x="598" y="137" width="2" height="1" fill="#000"/>
<rect x="600" y="136" width="1" height="25" fill="#dc143c"/>
<rect x="598" y="137" width="2" height="1" fill="#dc143c"/>
<rect x="601" y="158" width="2" height="1" fill="#dc143c"/>
<rect x="603" y="156" width="1" height="18" fill="#dc143c"/>
<rect x="601" y="159" width="2" height="1" fill="#dc143c"/>
<rect x="604" y="161" width="2" height="1" fill="#dc143c"/>
<rect x="607" y="152" width="1" height="13" fill="#000"/>
<rect x="605" y="160" width="2" height="1" fill="#000"/>
<rect x="608" y="158" width="2" height="1" fill="#000"/>
<rect x="610" y="154" width="1" height="40" fill="#dc143c"/>
<rect x="608" y="157" width="2" height="1" fill="#dc143c"/>
<rect x="611" y="180" width="2" height="1" fill="#dc143c"/>
<rect x="613" y="180" width="1" height="79" fill="#dc143c"/>
<rect x="611" y="181" width="2" height="1" fill="#dc143c"/>
<rect x="614" y="224" width="2" height="1" fill="#dc143c"/>
<rect x="617" y="215" width="1" height="74" fill="#dc143c"/>
<rect x="615" y="224" width="2" height="1" fill="#dc143c"/>
<rect x="618" y="243" width="2" height="1" fill="#dc143c"/>
<rect x="620" y="237" width="1" height="29" fill="#000"/>
<rect x="618" y="245" width="2" height="1" fill="#000"/>
<rect x="621" y="241" width="2" height="1" fill="#000"/>
<rect x="624" y="231" width="1" height="39" fill="#dc143c"/>
<rect x="622" y="241" width="2" height="1" fill="#dc143c"/>
<rect x="625" y="262" width="2" height="1" fill="#dc143c"/>
<rect x="627" y="249" width="1" height="42" fill="#dc143c"/>
<rect x="625" y="263" width="2" height="1" fill="#dc143c"/>
<rect x="628" y="290" width="2" height="1" fill="#dc143c"/>
<rect x="630" y="260" width="1" height="54" fill="#000"/>
<rect x="628" y="292" width="2" height="1" fill="#000"/>
<rect x="631" y="271" width="2" height="1" fill="#000"/>
<rect x="634" y="245" width="1" height="31" fill="#000"/>
<rect x="632" y="272" width="2" height="1" fill="#000"/>
<rect x="635" y="249" width="2" height="1" fill="#000"/>
<rect x="637" y="234" width="1" height="18" fill="#000"/>
<rect x="635" y="249" width="2" height="1" fill="#000"/>
<rect x="638" y="237" width="2" height="1" fill="#000"/>
<rect x="640" y="228" width="1" height="18" fill="#000"/>
<rect x="638" y="236" width="2" height="1" fill="#000"/>
<rect x="641" y="237" width="2" height="1" fill="#000"/>
<rect x="644" y="218" width="1" height="33" fill="#000"/>
<rect x="642" y="237" width="2" height="1" fill="#000"/>
<rect x="645" y="220" width="2" height="1" fill="#000"/>
<rect x="647" y="208" width="1" height="15" fill="#000"/>
<rect x="645" y="219" width="2" height="1" fill="#000"/>
<rect x="648" y="212" width="2" height="1" fill="#000"/>
<rect x="650" y="199" width="1" height="21" fill="#000"/>
<rect x="648" y="212" width="2" height="1" fill="#000"/>
<rect x="651" y="204" width="2" height="1" fill="#000"/>
<rect x="654" y="194" width="1" height="19" fill="#dc143c"/>
<rect x="652" y="204" width="2" height="1" fill="#dc143c"/>
<rect x="655" y="208" width="2" height="1" fill="#dc143c"/>
<rect x="657" y="191" width="1" height="20" fill="#000"/>
<rect x="655" y="208" width="2" height="1" fill="#000"/>
<rect x="658" y="195" width="2" height="1" fill="#000"/>
<rect x="661" y="188" width="1" height="10" fill="#000"/>
<rect x="659" y="194" width="2" height="1" fill="#000"/>
<rect x="662" y="191" width="2" height="1" fill="#000"/>
<rect x="664" y="184" width="1" height="17" fill="#dc143c"/>
<rect x="662" y="191" width="2" height="1" fill="#dc143c"/>
<rect x="665" y="200" width="2" height="1" fill="#dc143c"/>
<rect x="667" y="192" width="1" height="16" fill="#000"/>
<rect x="665" y="200" width="2" height="1" fill="#000"/>
<rect x="668" y="193" width="2" height="1" fill="#000"/>
<rect x="671" y="177" width="1" height="17" fill="#000"/>
<rect x="669" y="193" width="2" height="1" fill="#000"/>
<rect x="672" y="180" width="2" height="1" fill="#000"/>
<rect x="674" y="170" width="1" height="10" fill="#000"/>
<rect x="672" y="179" width="2" height="1" fill="#000"/>
<rect x="675" y="176" width="2" height="1" fill="#000"/>
<rect x="677" y="173" width="1" height="35" fill="#dc143c"/>
<rect x="675" y="176" width="2" height="1" fill="#dc143c"/>
<rect x="678" y="197" width="2" height="1" fill="#dc143c"/>
<rect x="681" y="188" width="1" height="23" fill="#dc143c"/>
<rect x="679" y="197" width="2" height="1" fill="#dc143c"/>
<rect x="682" y="210" width="2" height="1" fill="#dc143c"/>
<rect x="684" y="190" width="1" height="25" fill="#000"/>
<rect x="682" y="210" width="2" height="1" fill="#000"/>
<rect x="685" y="194" width="2" height="1" fill="#000"/>
<rect x="688" y="188" width="1" height="21" fill="#dc143c"/>
<rect x="686" y="193" width="2" height="1" fill="#dc143c"/>
<rect x="689" y="205" width="2" height="1" fill="#dc143c"/>
<rect x="691" y="182" width="1" height="24" fill="#000"/>
<rect x="689" y="205" width="2" height="1" fill="#000"/>
<rect x="692" y="186" width="2" height="1" fill="#000"/>
<rect x="694" y="174" width="1" height="14" fill="#000"/>
<rect x="692" y="185" width="2" height="1" fill="#000"/>
<rect x="695" y="177" width="2" height="1" fill="#000"/>
<rect x="698" y="168" width="1" height="12" fill="#dc143c"/>
<rect x="696" y="176" width="2" height="1" fill="#dc143c"/>
<rect x="699" y="177" width="2" height="1" fill="#dc143c"/>
<rect x="701" y="161" width="1" height="16" fill="#000"/>
<rect x="699" y="176" width="2" height="1" fill="#000"/>
<rect x="702" y="162" width="2" height="1" fill="#000"/>
<rect x="704" y="154" width="1" height="9" fill="#000"/>
<rect x="702" y="162" width="2" height="1" fill="#000"/>
<rect x="705" y="157" width="2" height="1" fill="#000"/>
<rect x="708" y="147" width="1" height="11" fill="#000"/>
<rect x="706" y="157" width="2" height="1" fill="#000"/>
<rect x="709" y="150" width="2" height="1" fill="#000"/>
<rect x="711" y="149" width="1" height="16" fill="#dc143c"/>
<rect x="709" y="149" width="2" height="1" fill="#dc143c"/>
<rect x="712" y="150" width="2" height="1" fill="#dc143c"/>
<rect x="714" y="143" width="1" height="13" fill="#000"/>
<rect x="712" y="149" width="2" height="1" fill="#000"/>
<rect x="715" y="143" width="2" height="1" fill="#000"/>
<rect x="718" y="142" width="1" height="11" fill="#dc143c"/>
<rect x="716" y="143" width="2" height="1" fill="#dc143c"/>
<rect x="719" y="146" width="2" height="1" fill="#dc143c"/>
<rect x="721" y="146" width="1" height="17" fill="#dc143c"/>
<rect x="719" y="146" width="2" height="1" fill="#dc143c"/>
<rect x="722" y="151" width="2" height="1" fill="#dc143c"/>
<rect x="725" y="144" width="1" height="15" fill="#dc143c"/>
<rect x="723" y="151" width="2" height="1" fill="#dc143c"/>
<rect x="726" y="156" width="2" height="1" fill="#dc143c"/>
<rect x="728" y="153" width="1" height="42" fill="#dc143c"/>
<rect x="726" y="156" width="2" height="1" fill="#dc143c"/>
<rect x="729" y="170" width="2" height="1" fill="#dc143c"/>
<rect x="731" y="168" width="1" height="24" fill="#dc143c"/>
<rect x="729" y="170" width="2" height="1" fill="#dc143c"/>
<rect x="732" y="188" width="2" height="1" fill="#dc143c"/>
<rect x="735" y="156" width="1" height="45" fill="#000"/>
<rect x="733" y="188" width="2" height="1" fill="#000"/>
<rect x="736" y="163" width="2" height="1" fill="#000"/>
<rect x="738" y="159" width="1" height="24" fill="#dc143c"/>
<rect x="736" y="164" width="2" height="1" fill="#dc143c"/>
<rect x="739" y="164" width="2" height="1" fill="#dc143c"/>
<rect x="741" y="160" width="1" height="14" fill="#000"/>
<rect x="739" y="164" width="2" height="1" fill="#000"/>
<rect x="742" y="162" width="2" height="1" fill="#000"/>
<rect x="745" y="148" width="1" height="15" fill="#000"/>
<rect x="743" y="162" width="2" height="1" fill="#000"/>
<rect x="746" y="152" width="2" height="1" fill="#000"/>
<rect x="748" y="141" width="1" height="12" fill="#000"/>
<rect x="746" y="152" width="2" height="1" fill="#000"/>
<rect x="749" y="143" width="2" height="1" fill="#000"/>
<rect x="752" y="134" width="1" height="14" fill="#000"/>
<rect x="750" y="143" width="2" height="1" fill="#000"/>
<rect x="753" y="135" width="2" height="1" fill="#000"/>
<rect x="755" y="133" width="1" height="12" fill="#dc143c"/>
<rect x="753" y="135" width="2" height="1" fill="#dc143c"/>
<rect x="756" y="137" width="2" height="1" fill="#dc143c"/>
<rect x="758" y="134" width="1" height="23" fill="#dc143c"/>
<rect x="756" y="137" width="2" height="1" fill="#dc143c"/>
<rect x="759" y="153" width="2" height="1" fill="#dc143c"/>
<rect x="762" y="143" width="1" height="19" fill="#000"/>
<rect x="760" y="153" width="2" height="1" fill="#000"/>
<rect x="763" y="143" width="2" height="1" fill="#000"/>
<rect x="765" y="138" width="1" height="13" fill="#000"/>
<rect x="763" y="143" width="2" height="1" fill="#000"/>
<rect x="766" y="140" width="2" height="1" fill="#000"/>
<rect x="768" y="132" width="1" height="14" fill="#000"/>
<rect x="766" y="140" width="2" height="1" fill="#000"/>
<rect x="769" y="136" width="2" height="1" fill="#000"/>
<rect x="772" y="125" width="1" height="13" fill="#000"/>
<rect x="770" y="136" width="2" height="1" fill="#000"/>
<rect x="773" y="130" width="2" height="1" fill="#000"/>
<rect x="775" y="125" width="1" height="12" fill="#dc143c"/>
<rect x="773" y="130" width="2" height="1" fill="#dc143c"/>
<rect x="776" y="135" width="2" height="1" fill="#dc143c"/>
<rect x="778" y="131" width="1" height="17" fill="#000"/>
<rect x="776" y="135" width="2" height="1" fill="#000"/>
<rect x="779" y="134" width="2" height="1" fill="#000"/>
<rect x="782" y="129" width="1" height="9" fill="#000"/>
<rect x="780" y="134" width="2" height="1" fill="#000"/>
<rect x="783" y="132" width="2" height="1" fill="#000"/>
<rect x="785" y="119" width="1" height="14" fill="#000"/>
<rect x="783" y="132" width="2" height="1" fill="#000"/>
<rect x="786" y="121" width="2" height="1" fill="#000"/>
<rect x="789" y="116" width="1" height="8" fill="#000"/>
<rect x="787" y="121" width="2" height="1" fill="#000"/>
<rect x="790" y="118" width="2" height="1" fill="#000"/>
<rect x="792" y="110" width="1" height="11" fill="#000"/>
<rect x="790" y="118" width="2" height="1" fill="#000"/>
<rect x="793" y="110" width="2" height="1" fill="#000"/>
<rect x="795" y="105" width="1" height="11" fill="#000"/>
<rect x="793" y="110" width="2" height="1" fill="#000"/>
<rect x="796" y="105" width="2" height="1" fill="#000"/>
<rect x="799" y="93" width="1" height="16" fill="#000"/>
<rect x="797" y="105" width="2" height="1" fill="#000"/>
<rect x="800" y="101" width="2" height="1" fill="#000"/>
<rect x="802" y="97" width="1" height="15" fill="#dc143c"/>
<rect x="800" y="100" width="2" height="1" fill="#dc143c"/>
<rect x="803" y="104" width="2" height="1" fill="#dc143c"/>
<rect x="805" y="91" width="1" height="14" fill="#000"/>
<rect x="803" y="104" width="2" height="1" fill="#000"/>
<rect x="806" y="93" width="2" height="1" fill="#000"/>
<rect x="809" y="89" width="1" height="13" fill="#dc143c"/>
<rect x="807" y="92" width="2" height="1" fill="#dc143c"/>
<rect x="810" y="100" width="2" height="1" fill="#dc143c"/>
<rect x="812" y="87" width="1" height="14" fill="#000"/>
<rect x="810" y="100" width="2" height="1" fill="#000"/>
<rect x="813" y="93" width="2" height="1" fill="#000"/>
<rect x="816" y="80" width="1" height="19" fill="#000"/>
<rect x="814" y="93" width="2" height="1" fill="#000"/>
<rect x="817" y="83" width="2" height="1" fill="#000"/>
<rect x="819" y="75" width="1" height="10" fill="#000"/>
<rect x="817" y="83" width="2" height="1" fill="#000"/>
<rect x="820" y="76" width="2" height="1" fill="#000"/>
<rect x="822" y="71" width="1" height="11" fill="#000"/>
<rect x="820" y="76" width="2" height="1" fill="#000"/>
<rect x="823" y="71" width="2" height="1" fill="#000"/>
<rect x="826" y="70" width="1" height="12" fill="#dc143c"/>
<rect x="824" y="71" width="2" height="1" fill="#dc143c"/>
<rect x="827" y="79" width="2" height="1" fill="#dc143c"/>
<rect x="829" y="68" width="1" height="18" fill="#000"/>
<rect x="827" y="79" width="2" height="1" fill="#000"/>
<rect x="830" y="69" width="2" height="1" fill="#000"/>
<rect x="832" y="66" width="1" height="8" fill="#000"/>
<rect x="830" y="70" width="2" height="1" fill="#000"/>
<rect x="833" y="68" width="2" height="1" fill="#000"/>
<rect x="836" y="65" width="1" height="11" fill="#000"/>
<rect x="834" y="68" width="2" height="1" fill="#000"/>
<rect x="837" y="66" width="2" height="1" fill="#000"/>
<rect x="839" y="61" width="1" height="9" fill="#000"/>
<rect x="837" y="66" width="2" height="1" fill="#000"/>
<rect x="840" y="61" width="2" height="1" fill="#000"/>
<rect x="842" y="56" width="1" height="7" fill="#000"/>
<rect x="840" y="61" width="2" height="1" fill="#000"/>
<rect x="843" y="57" width="2" height="1" fill="#000"/>
<rect x="846" y="53" width="1" height="8" fill="#dc143c"/>
<rect x="844" y="57" width="2" height="1" fill="#dc143c"/>
<rect x="847" y="60" width="2" height="1" fill="#dc143c"/>
<rect x="849" y="51" width="1" height="14" fill="#000"/>
<rect x="847" y="61" width="2" height="1" fill="#000"/>
<rect x="850" y="52" width="2" height="1" fill="#000"/>
<rect x="853" y="50" width="1" height="7" fill="#dc143c"/>
<rect x="851" y="52" width="2" height="1" fill="#dc143c"/>
<rect x="854" y="55" width="2" height="1" fill="#dc143c"/>
<rect x="856" y="50" width="1" height="25" fill="#000"/>
<rect x="854" y="55" width="2" height="1" fill="#000"/>
<rect x="857" y="50" width="2" height="1" fill="#000"/>
<rect x="859" y="43" width="1" height="10" fill="#000"/>
<rect x="857" y="50" width="2" height="1" fill="#000"/>
<rect x="860" y="44" width="2" height="1" fill="#000"/>
<rect x="863" y="41" width="1" height="15" fill="#dc143c"/>
<rect x="861" y="44" width="2" height="1" fill="#dc143c"/>
<rect x="864" y="45" width="2" height="1" fill="#dc143c"/>
<rect x="866" y="44" width="1" height="10" fill="#dc143c"/>
<rect x="864" y="45" width="2" height="1" fill="#dc143c"/>
<rect x="867" y="53" width="2" height="1" fill="#dc143c"/>
<rect x="869" y="38" width="1" height="17" fill="#000"/>
<rect x="867" y="52" width="2" height="1" fill="#000"/>
<rect x="870" y="40" width="2" height="1" fill="#000"/>
<rect x="873" y="38" width="1" height="10" fill="#dc143c"/>
<rect x="871" y="40" width="2" height="1" fill="#dc143c"/>
<rect x="874" y="44" width="2" height="1" fill="#dc143c"/>
<rect x="876" y="38" width="1" height="9" fill="#000"/>
<rect x="874" y="44" width="2" height="1" fill="#000"/>
<rect x="877" y="42" width="2" height="1" fill="#000"/>
<rect x="880" y="37" width="1" height="8" fill="#000"/>
<rect x="878" y="42" width="2" height="1" fill="#000"/>
<rect x="881" y="40" width="2" height="1" fill="#000"/>
<rect x="883" y="37" width="1" height="9" fill="#dc143c"/>
<rect x="881" y="39" width="2" height="1" fill="#dc143c"/>
<rect x="884" y="45" width="2" height="1" fill="#dc143c"/>
<rect x="886" y="37" width="1" height="11" fill="#000"/>
<rect x="884" y="44" width="2" height="1" fill="#000"/>
<rect x="887" y="40" width="2" height="1" fill="#000"/>
<rect x="890" y="39" width="1" height="30" fill="#dc143c"/>
<rect x="888" y="40" width="2" height="1" fill="#dc143c"/>
<rect x="891" y="55" width="2" height="1" fill="#dc143c"/>
<rect x="893" y="50" width="1" height="19" fill="#dc143c"/>
<rect x="891" y="56" width="2" height="1" fill="#dc143c"/>
<rect x="894" y="62" width="2" height="1" fill="#dc143c"/>
<rect x="896" y="41" width="1" height="25" fill="#000"/>
<rect x="894" y="62" width="2" height="1" fill="#000"/>
<rect x="897" y="43" width="2" height="1" fill="#000"/>
<rect x="900" y="39" width="1" height="12" fill="#000"/>
<rect x="898" y="43" width="2" height="1" fill="#000"/>
<rect x="901" y="43" width="2" height="1" fill="#000"/>
<rect x="903" y="40" width="1" height="14" fill="#dc143c"/>
<rect x="901" y="42" width="2" height="1" fill="#dc143c"/>
<rect x="904" y="47" width="2" height="1" fill="#dc143c"/>
<rect x="906" y="48" width="1" height="12" fill="#dc143c"/>
<rect x="904" y="48" width="2" height="1" fill="#dc143c"/>
<rect x="907" y="58" width="2" height="1" fill="#dc143c"/>
</g>
<clipPath id="cp"><rect x="17" y="30" width="929" height="391"/></clipPath>
<g clip-path="url(#cp)">
<polygon points="17,421 17,403.7 17.5,403.7 21.5,402.7 24.5,402.9 27.5,402.4 31.5,402.2 34.5,402.4 38.5,402.0 41.5,401.5 44.5,401.3 48.5,401.1 51.5,401.5 54.5,401.8 58.5,402.3 61.5,401.4 64.5,399.1 68.5,396.4 71.5,393.1 75.5,389.0 78.5,384.8 81.5,381.4 85.5,376.6 88.5,372.4 91.5,366.7 95.5,361.0 98.5,355.1 102.5,349.7 105.5,344.8 108.5,340.1 112.5,335.6 115.5,331.5 118.5,329.1 122.5,326.2 125.5,323.0 128.5,319.2 132.5,314.7 135.5,311.0 139.5,306.6 142.5,302.3 145.5,299.2 149.5,295.1 152.5,290.2 155.5,284.5 159.5,276.4 162.5,270.2 165.5,263.8 169.5,258.8 172.5,254.2 176.5,248.9 179.5,244.6 182.5,238.9 186.5,231.6 189.5,225.1 192.5,220.2 196.5,215.3 199.5,212.0 203.5,210.9 206.5,209.6 209.5,206.1 213.5,202.2 216.5,197.4 219.5,192.0 223.5,188.7 226.5,185.4 229.5,181.6 233.5,178.0 236.5,174.0 240.5,170.6 243.5,164.8 246.5,160.6 250.5,156.5 253.5,153.1 256.5,149.5 260.5,147.8 263.5,145.9 267.5,142.8 270.5,141.1 273.5,139.4 277.5,138.2 280.5,136.8 283.5,134.0 287.5,131.9 290.5,131.0 293.5,132.0 297.5,134.1 300.5,134.5 304.5,136.2 307.5,141.0 310.5,144.0 314.5,146.4 317.5,149.8 320.5,153.1 324.5,159.0 327.5,165.2 331.5,171.2 334.5,174.0 337.5,176.9 341.5,180.9 344.5,183.1 347.5,183.4 351.5,186.3 354.5,189.7 357.5,193.8 361.5,199.3 364.5,203.3 368.5,207.5 371.5,210.9 374.5,214.8 378.5,220.2 381.5,225.7 384.5,231.2 388.5,237.6 391.5,241.1 395.5,243.4 398.5,243.7 401.5,242.0 405.5,240.0 408.5,236.0 411.5,232.5 415.5,230.0 418.5,225.2 421.5,219.6 425.5,213.6 428.5,208.2 432.5,204.6 435.5,201.7 438.5,198.6 442.5,196.6 445.5,194.9 448.5,192.7 452.5,191.3 455.5,189.3 459.5,187.5 462.5,186.6 465.5,185.6 469.5,184.7 472.5,183.8 475.5,182.6 479.5,181.7 482.5,179.5 485.5,177.5 489.5,175.6 492.5,174.4 496.5,173.1 499.5,172.5 502.5,170.9 506.5,169.6 509.5,167.8 512.5,165.3 516.5,164.1 519.5,162.8 523.5,162.2 526.5,160.9 529.5,159.2 533.5,156.6 536.5,154.3 539.5,151.7 543.5,149.3 546.5,147.4 549.5,145.6 553.5,143.1 556.5,139.3 560.5,136.0 563.5,133.5 566.5,131.2 570.5,128.6 573.5,126.2 576.5,125.1 580.5,124.5 583.5,125.3 586.5,126.3 590.5,127.6 593.5,129.0 597.5,130.7 600.5,133.8 603.5,136.5 607.5,139.2 610.5,144.4 613.5,153.0 617.5,162.0 620.5,171.1 624.5,180.2 627.5,190.6 630.5,200.0 634.5,209.7 637.5,219.1 640.5,226.4 644.5,232.2 647.5,237.8 650.5,240.2 654.5,238.7 657.5,234.5 661.5,230.0 664.5,224.9 667.5,217.4 671.5,210.2 674.5,204.2 677.5,201.0 681.5,199.0 684.5,196.9 688.5,196.4 691.5,194.9 694.5,192.2 698.5,190.7 701.5,188.2 704.5,184.5 708.5,180.7 711.5,178.1 714.5,175.1 718.5,170.9 721.5,166.2 725.5,163.2 728.5,160.5 731.5,160.7 735.5,159.6 738.5,158.6 741.5,158.6 745.5,158.2 748.5,157.6 752.5,156.3 755.5,155.8 758.5,156.3 762.5,155.7 765.5,154.3 768.5,151.5 772.5,146.9 775.5,144.6 778.5,142.1 782.5,139.7 785.5,137.0 789.5,135.0 792.5,132.7 795.5,130.0 799.5,125.6 802.5,122.3 805.5,118.3 809.5,115.4 812.5,112.3 816.5,107.9 819.5,103.1 822.5,98.0 826.5,94.6 829.5,90.5 832.5,87.0 836.5,83.8 839.5,80.5 842.5,76.6 846.5,73.9 849.5,69.9 853.5,66.8 856.5,64.1 859.5,61.4 863.5,59.2 866.5,57.1 869.5,54.6 873.5,52.7 876.5,50.7 880.5,48.9 883.5,47.9 886.5,46.2 890.5,46.5 893.5,47.0 896.5,46.4 900.5,46.3 903.5,46.4 906.5,46.9 906.5,421" fill="rgba(112,129,136,0.43)"/>
<polyline points="17,403.7 17.5,403.7 21.5,402.7 24.5,402.9 27.5,402.4 31.5,402.2 34.5,402.4 38.5,402.0 41.5,401.5 44.5,401.3 48.5,401.1 51.5,401.5 54.5,401.8 58.5,402.3 61.5,401.4 64.5,399.1 68.5,396.4 71.5,393.1 75.5,389.0 78.5,384.8 81.5,381.4 85.5,376.6 88.5,372.4 91.5,366.7 95.5,361.0 98.5,355.1 102.5,349.7 105.5,344.8 108.5,340.1 112.5,335.6 115.5,331.5 118.5,329.1 122.5,326.2 125.5,323.0 128.5,319.2 132.5,314.7 135.5,311.0 139.5,306.6 142.5,302.3 145.5,299.2 149.5,295.1 152.5,290.2 155.5,284.5 159.5,276.4 162.5,270.2 165.5,263.8 169.5,258.8 172.5,254.2 176.5,248.9 179.5,244.6 182.5,238.9 186.5,231.6 189.5,225.1 192.5,220.2 196.5,215.3 199.5,212.0 203.5,210.9 206.5,209.6 209.5,206.1 213.5,202.2 216.5,197.4 219.5,192.0 223.5,188.7 226.5,185.4 229.5,181.6 233.5,178.0 236.5,174.0 240.5,170.6 243.5,164.8 246.5,160.6 250.5,156.5 253.5,153.1 256.5,149.5 260.5,147.8 263.5,145.9 267.5,142.8 270.5,141.1 273.5,139.4 277.5,138.2 280.5,136.8 283.5,134.0 287.5,131.9 290.5,131.0 293.5,132.0 297.5,134.1 300.5,134.5 304.5,136.2 307.5,141.0 310.5,144.0 314.5,146.4 317.5,149.8 320.5,153.1 324.5,159.0 327.5,165.2 331.5,171.2 334.5,174.0 337.5,176.9 341.5,180.9 344.5,183.1 347.5,183.4 351.5,186.3 354.5,189.7 357.5,193.8 361.5,199.3 364.5,203.3 368.5,207.5 371.5,210.9 374.5,214.8 378.5,220.2 381.5,225.7 384.5,231.2 388.5,237.6 391.5,241.1 395.5,243.4 398.5,243.7 401.5,242.0 405.5,240.0 408.5,236.0 411.5,232.5 415.5,230.0 418.5,225.2 421.5,219.6 425.5,213.6 428.5,208.2 432.5,204.6 435.5,201.7 438.5,198.6 442.5,196.6 445.5,194.9 448.5,192.7 452.5,191.3 455.5,189.3 459.5,187.5 462.5,186.6 465.5,185.6 469.5,184.7 472.5,183.8 475.5,182.6 479.5,181.7 482.5,179.5 485.5,177.5 489.5,175.6 492.5,174.4 496.5,173.1 499.5,172.5 502.5,170.9 506.5,169.6 509.5,167.8 512.5,165.3 516.5,164.1 519.5,162.8 523.5,162.2 526.5,160.9 529.5,159.2 533.5,156.6 536.5,154.3 539.5,151.7 543.5,149.3 546.5,147.4 549.5,145.6 553.5,143.1 556.5,139.3 560.5,136.0 563.5,133.5 566.5,131.2 570.5,128.6 573.5,126.2 576.5,125.1 580.5,124.5 583.5,125.3 586.5,126.3 590.5,127.6 593.5,129.0 597.5,130.7 600.5,133.8 603.5,136.5 607.5,139.2 610.5,144.4 613.5,153.0 617.5,162.0 620.5,171.1 624.5,180.2 627.5,190.6 630.5,200.0 634.5,209.7 637.5,219.1 640.5,226.4 644.5,232.2 647.5,237.8 650.5,240.2 654.5,238.7 657.5,234.5 661.5,230.0 664.5,224.9 667.5,217.4 671.5,210.2 674.5,204.2 677.5,201.0 681.5,199.0 684.5,196.9 688.5,196.4 691.5,194.9 694.5,192.2 698.5,190.7 701.5,188.2 704.5,184.5 708.5,180.7 711.5,178.1 714.5,175.1 718.5,170.9 721.5,166.2 725.5,163.2 728.5,160.5 731.5,160.7 735.5,159.6 738.5,158.6 741.5,158.6 745.5,158.2 748.5,157.6 752.5,156.3 755.5,155.8 758.5,156.3 762.5,155.7 765.5,154.3 768.5,151.5 772.5,146.9 775.5,144.6 778.5,142.1 782.5,139.7 785.5,137.0 789.5,135.0 792.5,132.7 795.5,130.0 799.5,125.6 802.5,122.3 805.5,118.3 809.5,115.4 812.5,112.3 816.5,107.9 819.5,103.1 822.5,98.0 826.5,94.6 829.5,90.5 832.5,87.0 836.5,83.8 839.5,80.5 842.5,76.6 846.5,73.9 849.5,69.9 853.5,66.8 856.5,64.1 859.5,61.4 863.5,59.2 866.5,57.1 869.5,54.6 873.5,52.7 876.5,50.7 880.5,48.9 883.5,47.9 886.5,46.2 890.5,46.5 893.5,47.0 896.5,46.4 900.5,46.3 903.5,46.4 906.5,46.9" fill="none" stroke="#6676a8" stroke-width="1.1" stroke-linejoin="round"/>
</g>
<g shape-rendering="crispEdges" fill="#000">
<rect x="16" y="29" width="931" height="1"/>
<rect x="16" y="421" width="931" height="1"/>
<rect x="16" y="29" width="1" height="393"/>
<rect x="946" y="29" width="1" height="393"/>
<rect x="947" y="30" width="1" height="392" fill="#f0dfc2"/>
<rect x="17" y="422" width="930" height="1" fill="#fbe8ca"/>
<rect x="947" y="412" width="1" height="1"/>
<rect x="947" y="402" width="1" height="1"/>
<rect x="947" y="392" width="1" height="1"/>
<rect x="947" y="382" width="3" height="1"/>
<rect x="947" y="372" width="1" height="1"/>
<rect x="947" y="363" width="1" height="1"/>
<rect x="947" y="355" width="1" height="1"/>
<rect x="947" y="346" width="1" height="1"/>
<rect x="947" y="338" width="3" height="1"/>
<rect x="947" y="331" width="1" height="1"/>
<rect x="947" y="323" width="1" height="1"/>
<rect x="947" y="316" width="1" height="1"/>
<rect x="947" y="309" width="1" height="1"/>
<rect x="947" y="302" width="3" height="1"/>
<rect x="947" y="295" width="1" height="1"/>
<rect x="947" y="289" width="1" height="1"/>
<rect x="947" y="282" width="1" height="1"/>
<rect x="947" y="276" width="1" height="1"/>
<rect x="947" y="270" width="3" height="1"/>
<rect x="947" y="264" width="1" height="1"/>
<rect x="947" y="258" width="1" height="1"/>
<rect x="947" y="253" width="1" height="1"/>
<rect x="947" y="247" width="1" height="1"/>
<rect x="947" y="242" width="3" height="1"/>
<rect x="947" y="237" width="1" height="1"/>
<rect x="947" y="232" width="1" height="1"/>
<rect x="947" y="227" width="1" height="1"/>
<rect x="947" y="222" width="1" height="1"/>
<rect x="947" y="217" width="3" height="1"/>
<rect x="947" y="212" width="1" height="1"/>
<rect x="947" y="208" width="1" height="1"/>
<rect x="947" y="203" width="1" height="1"/>
<rect x="947" y="199" width="1" height="1"/>
<rect x="947" y="194" width="3" height="1"/>
<rect x="947" y="190" width="1" height="1"/>
<rect x="947" y="186" width="1" height="1"/>
<rect x="947" y="182" width="1" height="1"/>
<rect x="947" y="178" width="1" height="1"/>
<rect x="947" y="174" width="3" height="1"/>
<rect x="947" y="170" width="1" height="1"/>
<rect x="947" y="166" width="1" height="1"/>
<rect x="947" y="162" width="1" height="1"/>
<rect x="947" y="158" width="1" height="1"/>
<rect x="947" y="155" width="3" height="1"/>
<rect x="947" y="151" width="1" height="1"/>
<rect x="947" y="147" width="1" height="1"/>
<rect x="947" y="144" width="1" height="1"/>
<rect x="947" y="140" width="1" height="1"/>
<rect x="947" y="137" width="3" height="1"/>
<rect x="947" y="134" width="1" height="1"/>
<rect x="947" y="130" width="1" height="1"/>
<rect x="947" y="127" width="1" height="1"/>
<rect x="947" y="124" width="1" height="1"/>
<rect x="947" y="120" width="3" height="1"/>
<rect x="947" y="117" width="1" height="1"/>
<rect x="947" y="114" width="1" height="1"/>
<rect x="947" y="111" width="1" height="1"/>
<rect x="947" y="108" width="1" height="1"/>
<rect x="947" y="105" width="3" height="1"/>
<rect x="947" y="102" width="1" height="1"/>
<rect x="947" y="99" width="1" height="1"/>
<rect x="947" y="96" width="1" height="1"/>
<rect x="947" y="94" width="1" height="1"/>
<rect x="947" y="91" width="3" height="1"/>
<rect x="947" y="88" width="1" height="1"/>
<rect x="947" y="85" width="1" height="1"/>
<rect x="947" y="82" width="1" height="1"/>
<rect x="947" y="80" width="1" height="1"/>
<rect x="947" y="77" width="3" height="1"/>
<rect x="947" y="74" width="1" height="1"/>
<rect x="947" y="72" width="1" height="1"/>
<rect x="947" y="69" width="1" height="1"/>
<rect x="947" y="67" width="1" height="1"/>
<rect x="947" y="64" width="3" height="1"/>
<rect x="947" y="62" width="1" height="1"/>
<rect x="947" y="59" width="1" height="1"/>
<rect x="947" y="57" width="1" height="1"/>
<rect x="947" y="54" width="1" height="1"/>
<rect x="947" y="52" width="3" height="1"/>
<rect x="947" y="50" width="1" height="1"/>
<rect x="947" y="47" width="1" height="1"/>
<rect x="947" y="45" width="1" height="1"/>
<rect x="947" y="43" width="1" height="1"/>
<rect x="947" y="40" width="3" height="1"/>
<rect x="947" y="38" width="1" height="1"/>
<rect x="947" y="36" width="1" height="1"/>
<rect x="947" y="34" width="1" height="1"/>
<rect x="947" y="32" width="1" height="1"/>
<rect x="17" y="422" width="1" height="2"/>
<rect x="21" y="422" width="1" height="1"/>
<rect x="24" y="422" width="1" height="1"/>
<rect x="27" y="422" width="1" height="1"/>
<rect x="31" y="422" width="1" height="1"/>
<rect x="34" y="422" width="1" height="1"/>
<rect x="38" y="422" width="1" height="1"/>
<rect x="41" y="422" width="1" height="1"/>
<rect x="44" y="422" width="1" height="1"/>
<rect x="48" y="422" width="1" height="1"/>
<rect x="51" y="422" width="1" height="1"/>
<rect x="54" y="422" width="1" height="1"/>
<rect x="58" y="422" width="1" height="2"/>
<rect x="61" y="422" width="1" height="1"/>
<rect x="64" y="422" width="1" height="1"/>
<rect x="68" y="422" width="1" height="1"/>
<rect x="71" y="422" width="1" height="1"/>
<rect x="75" y="422" width="1" height="1"/>
<rect x="78" y="422" width="1" height="1"/>
<rect x="81" y="422" width="1" height="1"/>
<rect x="85" y="422" width="1" height="1"/>
<rect x="88" y="422" width="1" height="1"/>
<rect x="91" y="422" width="1" height="1"/>
<rect x="95" y="422" width="1" height="1"/>
<rect x="98" y="422" width="1" height="2"/>
<rect x="102" y="422" width="1" height="1"/>
<rect x="105" y="422" width="1" height="1"/>
<rect x="108" y="422" width="1" height="1"/>
<rect x="112" y="422" width="1" height="1"/>
<rect x="115" y="422" width="1" height="1"/>
<rect x="118" y="422" width="1" height="1"/>
<rect x="122" y="422" width="1" height="1"/>
<rect x="125" y="422" width="1" height="1"/>
<rect x="128" y="422" width="1" height="1"/>
<rect x="132" y="422" width="1" height="1"/>
<rect x="135" y="422" width="1" height="1"/>
<rect x="139" y="422" width="1" height="2"/>
<rect x="142" y="422" width="1" height="1"/>
<rect x="145" y="422" width="1" height="1"/>
<rect x="149" y="422" width="1" height="1"/>
<rect x="152" y="422" width="1" height="1"/>
<rect x="155" y="422" width="1" height="1"/>
<rect x="159" y="422" width="1" height="1"/>
<rect x="162" y="422" width="1" height="1"/>
<rect x="165" y="422" width="1" height="1"/>
<rect x="169" y="422" width="1" height="1"/>
<rect x="172" y="422" width="1" height="1"/>
<rect x="176" y="422" width="1" height="1"/>
<rect x="179" y="422" width="1" height="2"/>
<rect x="182" y="422" width="1" height="1"/>
<rect x="186" y="422" width="1" height="1"/>
<rect x="189" y="422" width="1" height="1"/>
<rect x="192" y="422" width="1" height="1"/>
<rect x="196" y="422" width="1" height="1"/>
<rect x="199" y="422" width="1" height="1"/>
<rect x="203" y="422" width="1" height="1"/>
<rect x="206" y="422" width="1" height="1"/>
<rect x="209" y="422" width="1" height="1"/>
<rect x="213" y="422" width="1" height="1"/>
<rect x="216" y="422" width="1" height="1"/>
<rect x="219" y="422" width="1" height="2"/>
<rect x="223" y="422" width="1" height="1"/>
<rect x="226" y="422" width="1" height="1"/>
<rect x="229" y="422" width="1" height="1"/>
<rect x="233" y="422" width="1" height="1"/>
<rect x="236" y="422" width="1" height="1"/>
<rect x="240" y="422" width="1" height="1"/>
<rect x="243" y="422" width="1" height="1"/>
<rect x="246" y="422" width="1" height="1"/>
<rect x="250" y="422" width="1" height="1"/>
<rect x="253" y="422" width="1" height="1"/>
<rect x="256" y="422" width="1" height="1"/>
<rect x="260" y="422" width="1" height="2"/>
<rect x="263" y="422" width="1" height="1"/>
<rect x="267" y="422" width="1" height="1"/>
<rect x="270" y="422" width="1" height="1"/>
<rect x="273" y="422" width="1" height="1"/>
<rect x="277" y="422" width="1" height="1"/>
<rect x="280" y="422" width="1" height="1"/>
<rect x="283" y="422" width="1" height="1"/>
<rect x="287" y="422" width="1" height="1"/>
<rect x="290" y="422" width="1" height="1"/>
<rect x="293" y="422" width="1" height="1"/>
<rect x="297" y="422" width="1" height="1"/>
<rect x="300" y="422" width="1" height="2"/>
<rect x="304" y="422" width="1" height="1"/>
<rect x="307" y="422" width="1" height="1"/>
<rect x="310" y="422" width="1" height="1"/>
<rect x="314" y="422" width="1" height="1"/>
<rect x="317" y="422" width="1" height="1"/>
<rect x="320" y="422" width="1" height="1"/>
<rect x="324" y="422" width="1" height="1"/>
<rect x="327" y="422" width="1" height="1"/>
<rect x="331" y="422" width="1" height="1"/>
<rect x="334" y="422" width="1" height="1"/>
<rect x="337" y="422" width="1" height="1"/>
<rect x="341" y="422" width="1" height="2"/>
<rect x="344" y="422" width="1" height="1"/>
<rect x="347" y="422" width="1" height="1"/>
<rect x="351" y="422" width="1" height="1"/>
<rect x="354" y="422" width="1" height="1"/>
<rect x="357" y="422" width="1" height="1"/>
<rect x="361" y="422" width="1" height="1"/>
<rect x="364" y="422" width="1" height="1"/>
<rect x="368" y="422" width="1" height="1"/>
<rect x="371" y="422" width="1" height="1"/>
<rect x="374" y="422" width="1" height="1"/>
<rect x="378" y="422" width="1" height="1"/>
<rect x="381" y="422" width="1" height="2"/>
<rect x="384" y="422" width="1" height="1"/>
<rect x="388" y="422" width="1" height="1"/>
<rect x="391" y="422" width="1" height="1"/>
<rect x="395" y="422" width="1" height="1"/>
<rect x="398" y="422" width="1" height="1"/>
<rect x="401" y="422" width="1" height="1"/>
<rect x="405" y="422" width="1" height="1"/>
<rect x="408" y="422" width="1" height="1"/>
<rect x="411" y="422" width="1" height="1"/>
<rect x="415" y="422" width="1" height="1"/>
<rect x="418" y="422" width="1" height="1"/>
<rect x="421" y="422" width="1" height="2"/>
<rect x="425" y="422" width="1" height="1"/>
<rect x="428" y="422" width="1" height="1"/>
<rect x="432" y="422" width="1" height="1"/>
<rect x="435" y="422" width="1" height="1"/>
<rect x="438" y="422" width="1" height="1"/>
<rect x="442" y="422" width="1" height="1"/>
<rect x="445" y="422" width="1" height="1"/>
<rect x="448" y="422" width="1" height="1"/>
<rect x="452" y="422" width="1" height="1"/>
<rect x="455" y="422" width="1" height="1"/>
<rect x="459" y="422" width="1" height="1"/>
<rect x="462" y="422" width="1" height="2"/>
<rect x="465" y="422" width="1" height="1"/>
<rect x="469" y="422" width="1" height="1"/>
<rect x="472" y="422" width="1" height="1"/>
<rect x="475" y="422" width="1" height="1"/>
<rect x="479" y="422" width="1" height="1"/>
<rect x="482" y="422" width="1" height="1"/>
<rect x="485" y="422" width="1" height="1"/>
<rect x="489" y="422" width="1" height="1"/>
<rect x="492" y="422" width="1" height="1"/>
<rect x="496" y="422" width="1" height="1"/>
<rect x="499" y="422" width="1" height="1"/>
<rect x="502" y="422" width="1" height="2"/>
<rect x="506" y="422" width="1" height="1"/>
<rect x="509" y="422" width="1" height="1"/>
<rect x="512" y="422" width="1" height="1"/>
<rect x="516" y="422" width="1" height="1"/>
<rect x="519" y="422" width="1" height="1"/>
<rect x="523" y="422" width="1" height="1"/>
<rect x="526" y="422" width="1" height="1"/>
<rect x="529" y="422" width="1" height="1"/>
<rect x="533" y="422" width="1" height="1"/>
<rect x="536" y="422" width="1" height="1"/>
<rect x="539" y="422" width="1" height="1"/>
<rect x="543" y="422" width="1" height="2"/>
<rect x="546" y="422" width="1" height="1"/>
<rect x="549" y="422" width="1" height="1"/>
<rect x="553" y="422" width="1" height="1"/>
<rect x="556" y="422" width="1" height="1"/>
<rect x="560" y="422" width="1" height="1"/>
<rect x="563" y="422" width="1" height="1"/>
<rect x="566" y="422" width="1" height="1"/>
<rect x="570" y="422" width="1" height="1"/>
<rect x="573" y="422" width="1" height="1"/>
<rect x="576" y="422" width="1" height="1"/>
<rect x="580" y="422" width="1" height="1"/>
<rect x="583" y="422" width="1" height="2"/>
<rect x="586" y="422" width="1" height="1"/>
<rect x="590" y="422" width="1" height="1"/>
<rect x="593" y="422" width="1" height="1"/>
<rect x="597" y="422" width="1" height="1"/>
<rect x="600" y="422" width="1" height="1"/>
<rect x="603" y="422" width="1" height="1"/>
<rect x="607" y="422" width="1" height="1"/>
<rect x="610" y="422" width="1" height="1"/>
<rect x="613" y="422" width="1" height="1"/>
<rect x="617" y="422" width="1" height="1"/>
<rect x="620" y="422" width="1" height="1"/>
<rect x="624" y="422" width="1" height="2"/>
<rect x="627" y="422" width="1" height="1"/>
<rect x="630" y="422" width="1" height="1"/>
<rect x="634" y="422" width="1" height="1"/>
<rect x="637" y="422" width="1" height="1"/>
<rect x="640" y="422" width="1" height="1"/>
<rect x="644" y="422" width="1" height="1"/>
<rect x="647" y="422" width="1" height="1"/>
<rect x="650" y="422" width="1" height="1"/>
<rect x="654" y="422" width="1" height="1"/>
<rect x="657" y="422" width="1" height="1"/>
<rect x="661" y="422" width="1" height="1"/>
<rect x="664" y="422" width="1" height="2"/>
<rect x="667" y="422" width="1" height="1"/>
<rect x="671" y="422" width="1" height="1"/>
<rect x="674" y="422" width="1" height="1"/>
<rect x="677" y="422" width="1" height="1"/>
<rect x="681" y="422" width="1" height="1"/>
<rect x="684" y="422" width="1" height="1"/>
<rect x="688" y="422" width="1" height="1"/>
<rect x="691" y="422" width="1" height="1"/>
<rect x="694" y="422" width="1" height="1"/>
<rect x="698" y="422" width="1" height="1"/>
<rect x="701" y="422" width="1" height="1"/>
<rect x="704" y="422" width="1" height="2"/>
<rect x="708" y="422" width="1" height="1"/>
<rect x="711" y="422" width="1" height="1"/>
<rect x="714" y="422" width="1" height="1"/>
<rect x="718" y="422" width="1" height="1"/>
<rect x="721" y="422" width="1" height="1"/>
<rect x="725" y="422" width="1" height="1"/>
<rect x="728" y="422" width="1" height="1"/>
<rect x="731" y="422" width="1" height="1"/>
<rect x="735" y="422" width="1" height="1"/>
<rect x="738" y="422" width="1" height="1"/>
<rect x="741" y="422" width="1" height="1"/>
<rect x="745" y="422" width="1" height="2"/>
<rect x="748" y="422" width="1" height="1"/>
<rect x="752" y="422" width="1" height="1"/>
<rect x="755" y="422" width="1" height="1"/>
<rect x="758" y="422" width="1" height="1"/>
<rect x="762" y="422" width="1" height="1"/>
<rect x="765" y="422" width="1" height="1"/>
<rect x="768" y="422" width="1" height="1"/>
<rect x="772" y="422" width="1" height="1"/>
<rect x="775" y="422" width="1" height="1"/>
<rect x="778" y="422" width="1" height="1"/>
<rect x="782" y="422" width="1" height="1"/>
<rect x="785" y="422" width="1" height="2"/>
<rect x="789" y="422" width="1" height="1"/>
<rect x="792" y="422" width="1" height="1"/>
<rect x="795" y="422" width="1" height="1"/>
<rect x="799" y="422" width="1" height="1"/>
<rect x="802" y="422" width="1" height="1"/>
<rect x="805" y="422" width="1" height="1"/>
<rect x="809" y="422" width="1" height="1"/>
<rect x="812" y="422" width="1" height="1"/>
<rect x="816" y="422" width="1" height="1"/>
<rect x="819" y="422" width="1" height="1"/>
<rect x="822" y="422" width="1" height="1"/>
<rect x="826" y="422" width="1" height="2"/>
<rect x="829" y="422" width="1" height="1"/>
<rect x="832" y="422" width="1" height="1"/>
<rect x="836" y="422" width="1" height="1"/>
<rect x="839" y="422" width="1" height="1"/>
<rect x="842" y="422" width="1" height="1"/>
<rect x="846" y="422" width="1" height="1"/>
<rect x="849" y="422" width="1" height="1"/>
<rect x="853" y="422" width="1" height="1"/>
<rect x="856" y="422" width="1" height="1"/>
<rect x="859" y="422" width="1" height="1"/>
<rect x="863" y="422" width="1" height="1"/>
<rect x="866" y="422" width="1" height="2"/>
<rect x="869" y="422" width="1" height="1"/>
<rect x="873" y="422" width="1" height="1"/>
<rect x="876" y="422" width="1" height="1"/>
<rect x="880" y="422" width="1" height="1"/>
<rect x="883" y="422" width="1" height="1"/>
<rect x="886" y="422" width="1" height="1"/>
<rect x="890" y="422" width="1" height="1"/>
<rect x="893" y="422" width="1" height="1"/>
<rect x="896" y="422" width="1" height="1"/>
<rect x="900" y="422" width="1" height="1"/>
<rect x="903" y="422" width="1" height="1"/>
<rect x="906" y="422" width="1" height="2"/>
<rect x="910" y="422" width="1" height="1"/>
<rect x="913" y="422" width="1" height="1"/>
<rect x="917" y="422" width="1" height="1"/>
<rect x="920" y="422" width="1" height="1"/>
<rect x="923" y="422" width="1" height="1"/>
<rect x="927" y="422" width="1" height="1"/>
<rect x="930" y="422" width="1" height="1"/>
<rect x="933" y="422" width="1" height="1"/>
<rect x="937" y="422" width="1" height="1"/>
<rect x="940" y="422" width="1" height="1"/>
</g>
</svg>
<div class="t" style="left:17px;top:30px;width:150px;height:12px;background:#f8f8ff;"></div>
<div class="t" style="left:17px;top:42px;width:83px;height:22px;background:#f8f8ff;"></div>
<div class="t" id="t1" style="left:16.60px;top:4.72px;font-size:12.5px;letter-spacing:0.324px;font-weight:bold;">$SPX</div>
<div class="t" id="t2" style="left:53.40px;top:5.41px;font-size:10.5px;letter-spacing:0.002px;">S&amp;P 500 Large Cap Index</div>
<div class="t" id="t3" style="left:181.70px;top:5.96px;font-size:9.5px;letter-spacing:-0.020px;">INDX</div>
<div class="t" id="t4" style="left:15.90px;top:18.54px;font-size:10px;letter-spacing:0.279px;">8-Jan-2016 10:39am</div>
<div class="t" id="o1" style="left:465.60px;top:18.11px;font-size:10.5px;letter-spacing:0.526px;font-weight:bold;">Open</div>
<div class="t" id="o2" style="left:497.90px;top:18.11px;font-size:10.5px;letter-spacing:-0.036px;">2038.20</div>
<div class="t" id="o3" style="left:542.80px;top:18.11px;font-size:10.5px;letter-spacing:0.095px;font-weight:bold;">High</div>
<div class="t" id="o4" style="left:569.80px;top:18.11px;font-size:10.5px;letter-spacing:0.097px;">2038.20</div>
<div class="t" id="o5" style="left:614.50px;top:18.11px;font-size:10.5px;letter-spacing:0.586px;font-weight:bold;">Low</div>
<div class="t" id="o6" style="left:642.30px;top:18.11px;font-size:10.5px;letter-spacing:-0.036px;">1938.83</div>
<div class="t" id="o7" style="left:686.50px;top:18.11px;font-size:10.5px;letter-spacing:0.336px;font-weight:bold;">Last</div>
<div class="t" id="o8" style="left:714.60px;top:18.11px;font-size:10.5px;letter-spacing:-0.036px;">1946.69</div>
<div class="t" id="o9" style="left:759.30px;top:18.11px;font-size:10.5px;letter-spacing:0.779px;font-weight:bold;">Volume</div>
<div class="t" id="o10" style="left:805.50px;top:18.11px;font-size:10.5px;letter-spacing:-0.089px;">11.6B</div>
<div class="t" id="o11" style="left:838.90px;top:18.11px;font-size:10.5px;letter-spacing:0.452px;font-weight:bold;">Chg</div>
<div class="t" id="o12" style="left:864.10px;top:18.11px;font-size:10.5px;letter-spacing:-0.032px;">-97.25 (-4.76%)</div>
<div class="t" id="sc" style="left:856.60px;top:5.11px;font-size:10.5px;letter-spacing:-0.078px;color:#505050;-webkit-text-stroke:0;">&copy; StockCharts.com</div>
<div class="t" id="l1a" style="left:31.80px;top:31.37px;font-size:10.2px;letter-spacing:0.348px;-webkit-text-stroke:0.1px #000;">$SPX</div>
<div class="t" id="l1b" style="left:64.50px;top:31.37px;font-size:10.2px;letter-spacing:1.142px;-webkit-text-stroke:0.1px #000;">(Monthly)</div>
<div class="t" id="l1c" style="left:120.70px;top:31.37px;font-size:10.2px;letter-spacing:1.273px;-webkit-text-stroke:0.1px #000;">1946.69</div>
<div class="t" id="l2" style="left:29.60px;top:42.53px;font-size:10px;letter-spacing:-0.288px;color:#00008b;-webkit-text-stroke:0.1px currentColor;">MA(12) 2047.90</div>
<div class="t" id="l3" style="left:29.60px;top:53.53px;font-size:10px;letter-spacing:-0.288px;color:#708090;-webkit-text-stroke:0.1px currentColor;">MA(12) 2047.90</div>
<div class="t" style="left:938.5px;top:22px;width:0;height:0;border-left:4px solid transparent;border-right:4px solid transparent;border-top:4.5px solid #a80028;"></div>
<div class="t" style="left:19px;top:46px;width:9px;height:2px;background:#00008b;"></div>
<svg class="t" style="left:0;top:0" width="40" height="64"><path d="M19,62 L19,60.3 L23.3,53.8 L24.2,54 L26.2,58.6 L27.2,57 L28,57.2 L28,62 Z" fill="#8d9795"/></svg>
<svg class="t" style="left:0;top:0" width="40" height="44" shape-rendering="crispEdges"><rect x="20" y="32" width="1" height="1"/><rect x="20" y="33" width="1" height="1"/><rect x="20" y="34" width="1" height="1"/><rect x="20" y="35" width="1" height="1"/><rect x="20" y="36" width="1" height="1"/><rect x="20" y="37" width="1" height="1"/><rect x="19" y="33" width="1" height="1"/><rect x="21" y="36" width="1" height="1"/><rect x="23" y="35" width="1" height="1"/><rect x="23" y="36" width="1" height="1"/><rect x="23" y="37" width="1" height="1"/><rect x="23" y="38" width="1" height="1"/><rect x="23" y="39" width="1" height="1"/><rect x="23" y="40" width="1" height="1"/><rect x="22" y="36" width="1" height="1"/><rect x="22" y="39" width="1" height="1"/><rect x="24" y="39" width="1" height="1"/><rect x="26" y="32" width="1" height="1"/><rect x="26" y="33" width="1" height="1"/><rect x="26" y="34" width="1" height="1"/><rect x="26" y="35" width="1" height="1"/><rect x="26" y="36" width="1" height="1"/><rect x="26" y="37" width="1" height="1"/><rect x="26" y="38" width="1" height="1"/><rect x="27" y="35" width="1" height="1"/><rect x="25" y="37" width="1" height="1"/></svg>
<div class="t" style="left:19.4px;top:4px;width:1px;height:12px;background:rgba(0,0,0,0.7)"></div>
<div class="yl" style="top:377.54px">500</div>
<div class="yl" style="top:333.54px">600</div>
<div class="yl" style="top:297.54px">700</div>
<div class="yl" style="top:265.54px">800</div>
<div class="yl" style="top:237.53px">900</div>
<div class="yl" style="top:212.53px">1000</div>
<div class="yl" style="top:189.53px">1100</div>
<div class="yl" style="top:169.53px">1200</div>
<div class="yl" style="top:150.53px">1300</div>
<div class="yl" style="top:132.53px">1400</div>
<div class="yl" style="top:115.53px">1500</div>
<div class="yl" style="top:100.53px">1600</div>
<div class="yl" style="top:86.53px">1700</div>
<div class="yl" style="top:72.53px">1800</div>
<div class="yl" style="top:59.53px">1900</div>
<div class="yl" style="top:47.53px">2000</div>
<div class="yl" style="top:35.53px">2100</div>
<div class="xl" style="left:4.7px">1994</div>
<div class="xl" style="left:45.7px">1995</div>
<div class="xl" style="left:85.7px">1996</div>
<div class="xl" style="left:126.7px">1997</div>
<div class="xl" style="left:166.7px">1998</div>
<div class="xl" style="left:206.7px">1999</div>
<div class="xl" style="left:247.7px">2000</div>
<div class="xl" style="left:287.7px">2001</div>
<div class="xl" style="left:328.7px">2002</div>
<div class="xl" style="left:368.7px">2003</div>
<div class="xl" style="left:408.7px">2004</div>
<div class="xl" style="left:449.7px">2005</div>
<div class="xl" style="left:489.7px">2006</div>
<div class="xl" style="left:530.7px">2007</div>
<div class="xl" style="left:570.7px">2008</div>
<div class="xl" style="left:611.7px">2009</div>
<div class="xl" style="left:651.7px">2010</div>
<div class="xl" style="left:691.7px">2011</div>
<div class="xl" style="left:732.7px">2012</div>
<div class="xl" style="left:772.7px">2013</div>
<div class="xl" style="left:813.7px">2014</div>
<div class="xl" style="left:853.7px">2015</div>
<div class="xl" style="left:893.7px">2016</div>
<div id="bd"></div>
<svg width="990" height="438" viewBox="0 0 990 438" style="position:absolute;left:0;top:0"><line x1="-3" y1="432.2" x2="919.6" y2="62.5" stroke="#0000ff" stroke-width="2.35" stroke-linecap="round"/></svg>
</div></body></html>
